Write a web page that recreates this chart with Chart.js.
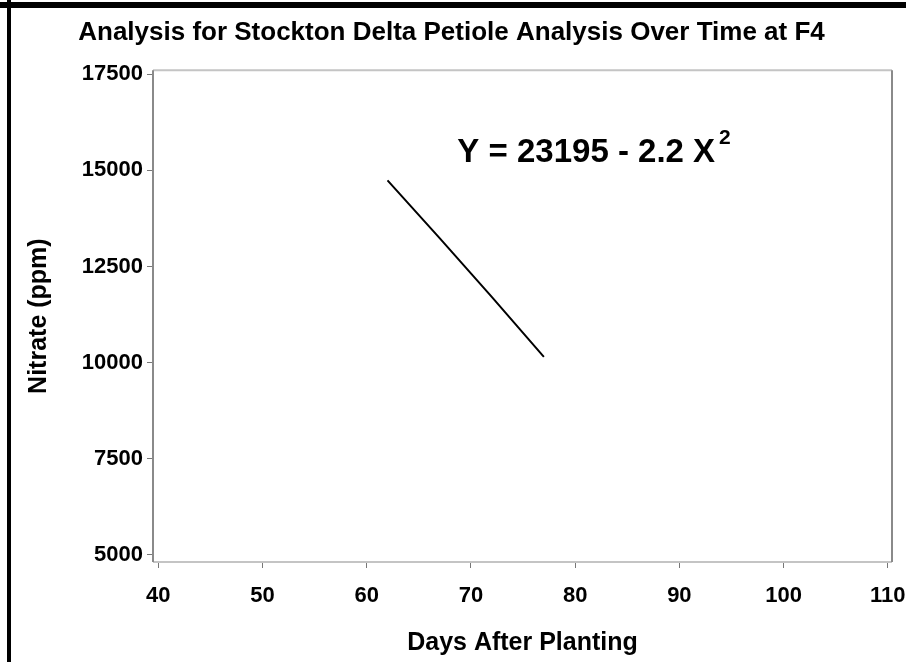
<!DOCTYPE html>
<html>
<head>
<meta charset="utf-8">
<script src="https://cdn.jsdelivr.net/npm/chart.js@4"></script>
<style>
  html, body { margin: 0; padding: 0; background: #fff; }
  #wrap { position: relative; width: 906px; height: 662px; overflow: hidden; }
  #edgeTop { position: absolute; left: 0; top: 2px; width: 906px; height: 6px; background: #000; }
  #edgeLeft { position: absolute; left: 7px; top: 0; width: 4px; height: 662px; background: #000; }
</style>
</head>
<body>
<div id="wrap">
  <canvas id="chart" width="906" height="662"></canvas>
  <div id="edgeTop"></div>
  <div id="edgeLeft"></div>
</div>
<script>
const days = [62, 67, 72, 77];
const nitrate = [14740, 13240, 11710, 10150];
const xTicks = [40, 50, 60, 70, 80, 90, 100, 110];
const yTicks = [5000, 7500, 10000, 12500, 15000, 17500];
const equationText = 'Y = 23195 - 2.2 X';
const equationPower = '2';
const equationAt = { x: 68.7, y: 15210 };

const FONT = '"Liberation Sans", Arial, sans-serif';

const frameBox = {
    id: 'frameBox',
    beforeDatasetsDraw(chart) {
        const { ctx, chartArea: a } = chart;
        ctx.save();
        ctx.lineWidth = 2;
        ctx.strokeStyle = '#c4c4c4';
        ctx.beginPath();
        ctx.moveTo(a.left, a.top); ctx.lineTo(a.right, a.top);
        ctx.moveTo(a.left, a.bottom); ctx.lineTo(a.right, a.bottom);
        ctx.stroke();
        ctx.strokeStyle = '#8a8a8a';
        ctx.beginPath();
        ctx.moveTo(a.left, a.top); ctx.lineTo(a.left, a.bottom);
        ctx.moveTo(a.right, a.top); ctx.lineTo(a.right, a.bottom);
        ctx.stroke();
        ctx.restore();
    }
};

const equationLabel = {
    id: 'equationLabel',
    afterDatasetsDraw(chart) {
        const { ctx, scales } = chart;
        const px = scales.x.getPixelForValue(equationAt.x);
        const py = scales.y.getPixelForValue(equationAt.y);
        ctx.save();
        ctx.fillStyle = '#000';
        ctx.textAlign = 'left';
        ctx.textBaseline = 'alphabetic';
        ctx.font = 'bold 33px ' + FONT;
        ctx.fillText(equationText, px, py);
        const w = ctx.measureText(equationText).width;
        ctx.font = 'bold 21px ' + FONT;
        ctx.fillText(equationPower, px + w + 4, py - 18);
        ctx.restore();
    }
};

new Chart(document.getElementById('chart'), {
    type: 'line',
    data: {
        datasets: [{
            data: days.map((d, i) => ({ x: d, y: nitrate[i] })),
            borderColor: '#000',
            borderWidth: 2,
            pointRadius: 0,
            tension: 0,
            fill: false
        }]
    },
    options: {
        responsive: false,
        animation: false,
        layout: { padding: { left: 11, right: 14, top: 8, bottom: 0 } },
        plugins: {
            legend: { display: false },
            tooltip: { enabled: false },
            title: {
                display: true,
                text: 'Analysis for Stockton Delta Petiole Analysis Over Time at F4',
                color: '#000',
                font: { family: FONT, size: 26, weight: 'bold' },
                padding: { top: 9, bottom: 22 }
            }
        },
        scales: {
            x: {
                type: 'linear',
                min: 39.5, max: 110.4,
                afterBuildTicks: axis => { axis.ticks = xTicks.map(v => ({ value: v })); },
                afterFit: axis => { axis.height = 100; axis.paddingLeft = 0; axis.paddingRight = 0; },
                grid: { display: true, drawOnChartArea: false, drawTicks: true, tickLength: 6, color: '#777', lineWidth: 1 },
                border: { display: false },
                ticks: {
                    color: '#000', padding: 15, maxRotation: 0,
                    font: { family: FONT, size: 22, weight: 'bold' },
                    callback: v => String(v)
                },
                title: {
                    display: true, text: 'Days After Planting', color: '#000',
                    font: { family: FONT, size: 25, weight: 'bold' }, padding: { top: 7 }
                }
            },
            y: {
                type: 'linear',
                min: 4818, max: 17604,
                afterBuildTicks: axis => { axis.ticks = yTicks.map(v => ({ value: v })); },
                afterFit: axis => { axis.width = 142; axis.paddingTop = 0; axis.paddingBottom = 0; },
                grid: { display: true, drawOnChartArea: false, drawTicks: true, tickLength: 6, color: '#777', lineWidth: 1 },
                border: { display: false },
                ticks: {
                    color: '#000', padding: 4,
                    font: { family: FONT, size: 22, weight: 'bold' },
                    callback: v => String(v)
                },
                title: {
                    display: true, text: 'Nitrate (ppm)', color: '#000',
                    font: { family: FONT, size: 25, weight: 'bold' }, padding: { top: 13, bottom: 0 }
                }
            }
        }
    },
    plugins: [frameBox, equationLabel]
});
</script>
</body>
</html>
